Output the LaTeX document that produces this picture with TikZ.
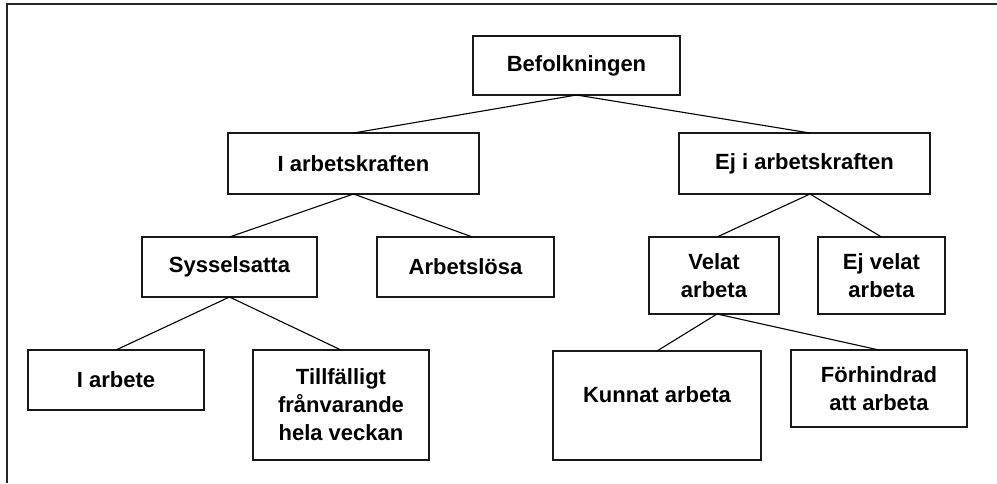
\documentclass[tikz,border=0pt]{standalone}
\usepackage{fontspec}
\setmainfont{Liberation Sans}
\usetikzlibrary{calc}
\begin{document}
\begin{tikzpicture}[x=1pt,y=-1pt,
  box/.style={draw=black!90,line width=1.3pt,inner sep=0pt,outer sep=0pt,align=center,
    font=\fontsize{22}{28}\selectfont\bfseries},
  conn/.style={draw=black,line width=1.1pt},
  frame/.style={draw=black!85,line width=2pt}]
\useasboundingbox (0,0) rectangle (997,483);
\coordinate (ftl) at (7,3.5);
\coordinate (ftr) at (997,3.5);
\coordinate (fbl) at (7,483);
\draw[frame] (ftr) -- (ftl) -- (fbl);
% boxes
\node[box,minimum width=207pt,minimum height=59pt] (B) at (576.5,65.5) {Befolkningen};
\node[box,minimum width=251pt,minimum height=61pt] (IA) at (353.5,163.5) {I arbetskraften};
\node[box,minimum width=251pt,minimum height=61pt] (EA) at (804.5,163.5) {Ej i arbetskraften};
\node[box,minimum width=175pt,minimum height=60pt] (S) at (229.5,267) {Sysselsatta};
\node[box,minimum width=177pt,minimum height=60pt] (AL) at (465.5,267) {Arbetslösa};
\node[box,minimum width=130pt,minimum height=77pt] (VA) at (714,275.5) {Velat\\arbeta};
\node[box,minimum width=127pt,minimum height=77pt] (EV) at (881.5,275.5) {Ej velat\\arbeta};
\node[box,minimum width=176pt,minimum height=60pt] (IAr) at (116,380) {I arbete};
\node[box,minimum width=176pt,minimum height=110pt] (T) at (341,405) {Tillfälligt\\frånvarande\\hela veckan};
\node[box,minimum width=208pt,minimum height=109pt] (K) at (657,405.5) {\raisebox{11pt}[\height][\depth]{Kunnat arbeta}};
\node[box,minimum width=176pt,minimum height=77pt] (F) at (879,388.5) {Förhindrad\\att arbeta};
% connectors
\draw[conn] (B.south) -- (IA.north);
\draw[conn] (B.south) -- ([xshift=5.5pt]EA.north);
\draw[conn] (IA.south) -- (S.north);
\draw[conn] (IA.south) -- ([xshift=7pt]AL.north);
\draw[conn] ([xshift=5.5pt]EA.south) -- ([xshift=3pt]VA.north);
\draw[conn] ([xshift=5.5pt]EA.south) -- (EV.north);
\draw[conn] (S.south) -- (IAr.north);
\draw[conn] (S.south) -- (T.north);
\draw[conn] ([xshift=3pt]VA.south) -- (K.north);
\draw[conn] ([xshift=3pt]VA.south) -- (F.north);
\end{tikzpicture}
\end{document}
